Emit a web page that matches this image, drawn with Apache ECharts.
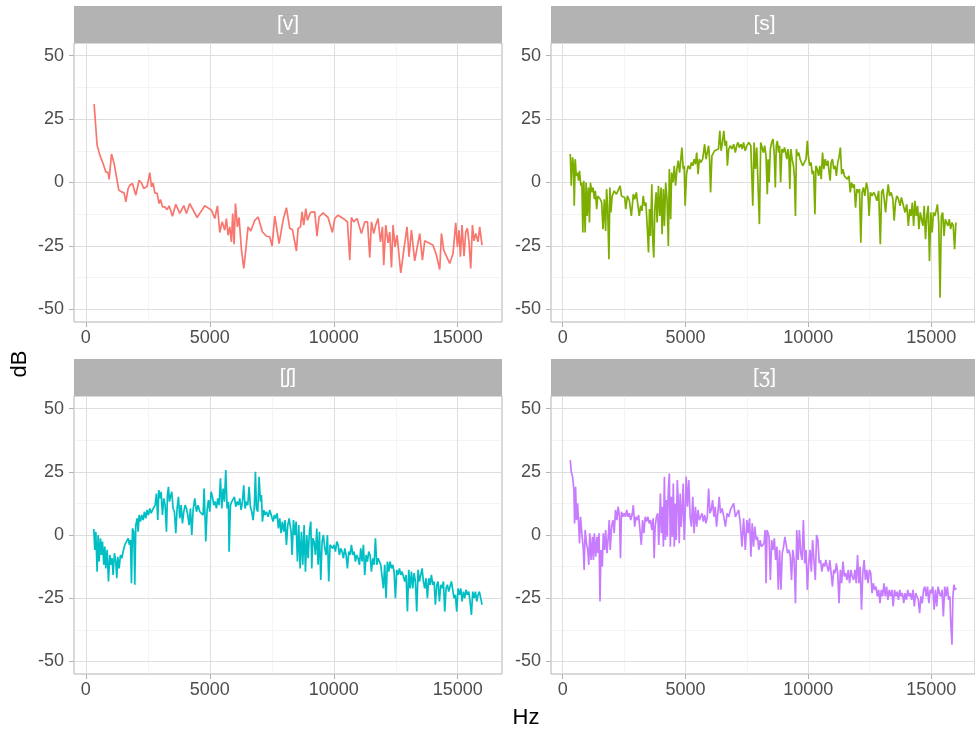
<!DOCTYPE html>
<html><head><meta charset="utf-8">
<script src="https://cdn.jsdelivr.net/npm/echarts@6/dist/echarts.min.js"></script>
<style>html,body{margin:0;padding:0;background:#fff}#c{width:975px;height:729px}</style>
</head><body><div id="c"></div><script>
const panelNames = ['[v]', '[s]', '[ʃ]', '[ʒ]'];
const panelColors = ['#F8766D', '#7CAE00', '#00BFC4', '#C77CFF'];
const xTicks = [0, 5000, 10000, 15000];
const xMinorTicks = [2500, 7500, 12500];
const yTicks = [-50, -25, 0, 25, 50];
const yMinorTicks = [-37.5, -12.5, 12.5, 37.5];
const xTitle = 'Hz';
const yTitle = 'dB';

// [Hz, dB]
const dataV = [[335,30.9],[456,14.7],[565,10.8],[698,7.5],[806,4.2],[899,3.9],[940,1.2],[1036,11.2],[1142,7.5],[1237,2.2],[1330,-3.0],[1439,-3.7],[1544,-4.1],[1613,-7.6],[1706,-2.4],[1774,-1.1],[1882,-0.4],[2016,-5.0],[2150,0.9],[2246,-0.2],[2339,-2.4],[2472,-1.5],[2581,3.9],[2648,-1.7],[2715,-0.2],[2782,-4.1],[2876,-4.3],[2956,-8.3],[3011,-6.7],[3092,-9.6],[3185,-9.6],[3279,-10.7],[3360,-9.2],[3494,-13.3],[3629,-8.6],[3790,-12.2],[3951,-9.1],[4059,-12.2],[4193,-8.3],[4488,-13.8],[4798,-9.2],[5067,-10.9],[5201,-14.2],[5309,-9.2],[5403,-19.7],[5497,-15.5],[5604,-18.8],[5671,-14.2],[5738,-20.8],[5806,-17.5],[5873,-23.4],[5925,-12.2],[5980,-24.3],[6036,-8.3],[6116,-17.5],[6181,-13.8],[6278,-26.7],[6371,-33.9],[6451,-26.7],[6544,-17.5],[6653,-19.1],[6814,-14.9],[6948,-13.6],[7125,-19.5],[7286,-21.2],[7420,-21.4],[7512,-25.1],[7621,-13.2],[7795,-24.1],[7956,-14.9],[8091,-9.9],[8225,-18.1],[8334,-18.5],[8386,-21.4],[8495,-27.0],[8560,-18.1],[8657,-17.5],[8721,-11.6],[8790,-16.8],[8871,-10.3],[8939,-14.9],[9060,-11.8],[9233,-11.6],[9326,-21.2],[9407,-13.6],[9568,-12.0],[9770,-13.8],[9947,-19.7],[10040,-14.2],[10173,-12.9],[10443,-14.6],[10551,-15.5],[10645,-30.6],[10712,-13.8],[10806,-15.5],[10939,-14.2],[11116,-20.1],[11253,-15.5],[11362,-15.5],[11451,-29.6],[11520,-15.5],[11612,-20.1],[11693,-16.8],[11786,-14.2],[11883,-23.4],[11963,-17.5],[12016,-32.6],[12097,-16.8],[12190,-23.8],[12258,-19.5],[12327,-33.5],[12391,-16.8],[12472,-25.4],[12553,-20.8],[12701,-35.6],[12834,-26.0],[12955,-17.5],[13036,-29.3],[13133,-18.8],[13265,-30.9],[13467,-20.1],[13576,-30.6],[13669,-23.0],[14004,-24.7],[14140,-28.7],[14274,-34.3],[14342,-20.1],[14435,-26.7],[14677,-31.9],[14810,-28.0],[14919,-15.9],[14988,-25.4],[15052,-18.8],[15108,-29.3],[15173,-16.8],[15254,-29.1],[15322,-19.5],[15390,-18.1],[15455,-23.4],[15524,-33.9],[15592,-16.8],[15657,-23.0],[15725,-20.1],[15818,-23.4],[15886,-17.5],[15979,-24.7]];

const dataS = [[309,11.2],[350,-1.3],[403,9.9],[444,6.6],[470,-9.2],[511,9.2],[551,2.6],[605,3.9],[645,0.7],[685,4.6],[739,-1.3],[780,0],[820,-19.7],[860,0.7],[914,-19.7],[954,0],[995,-13.2],[1048,-2.0],[1089,-15.8],[1129,0],[1183,-3.9],[1236,-2.0],[1290,-6.6],[1331,-3.3],[1384,-10.5],[1425,-5.3],[1479,-5.3],[1532,-6.6],[1586,-7.9],[1640,-18.4],[1694,-6.6],[1747,-19.1],[1787,-2.6],[1828,-9.2],[1882,-30.3],[1922,-2.0],[1962,-11.8],[2016,-5.3],[2096,-3.3],[2190,-4.6],[2258,-3.9],[2338,-1.3],[2392,-5.3],[2459,-5.3],[2526,-5.9],[2567,-10.5],[2634,-5.3],[2715,-7.2],[2795,-13.2],[2876,-4.6],[2930,-6.6],[2997,-3.9],[3064,-9.2],[3118,-13.2],[3172,-9.2],[3226,-11.2],[3279,-5.3],[3333,-9.2],[3387,-7.9],[3440,-17.1],[3494,-27.6],[3534,-10.5],[3575,-21.1],[3629,-0.7],[3669,-23.0],[3709,-29.6],[3750,-10.5],[3803,-3.9],[3844,-15.8],[3898,-1.3],[3951,-13.2],[4005,-2.0],[4046,-20.4],[4099,-2.6],[4140,-17.1],[4193,0],[4247,-6.6],[4301,-25.0],[4341,5.3],[4395,-14.5],[4435,3.9],[4489,0],[4543,6.6],[4596,-1.3],[4650,5.3],[4704,8.6],[4758,3.9],[4811,9.2],[4852,13.8],[4906,5.3],[4946,6.6],[4986,-9.2],[5040,3.3],[5107,6.6],[5188,5.3],[5241,7.9],[5295,6.6],[5349,9.2],[5403,7.2],[5456,11.8],[5510,3.3],[5564,9.2],[5618,7.9],[5698,9.2],[5779,15.1],[5833,9.2],[5886,11.8],[5940,14.5],[5980,9.2],[6021,-3.9],[6074,10.5],[6128,9.9],[6182,12.5],[6262,11.8],[6343,13.2],[6396,20.4],[6450,12.5],[6504,15.8],[6558,20.4],[6611,14.5],[6665,16.4],[6705,6.6],[6759,13.2],[6826,14.5],[6893,13.2],[6961,15.1],[7028,11.8],[7081,14.5],[7135,15.8],[7189,13.8],[7256,15.1],[7310,13.2],[7363,15.8],[7430,12.5],[7498,14.5],[7578,15.8],[7659,14.5],[7739,-9.2],[7793,15.8],[7847,5.3],[7901,13.8],[7954,13.2],[8008,-16.4],[8062,15.8],[8115,16.4],[8169,11.8],[8223,14.5],[8277,10.5],[8330,-4.6],[8360,9.2],[8401,0],[8454,13.2],[8508,15.8],[8562,17.1],[8616,10.5],[8656,-2.0],[8696,14.5],[8737,16.4],[8790,11.8],[8831,14.5],[8871,0],[8925,13.2],[8979,11.8],[9032,13.8],[9073,14.5],[9126,9.2],[9167,13.2],[9207,10.5],[9247,-2.6],[9288,13.2],[9341,9.2],[9395,6.6],[9435,2.0],[9476,-13.2],[9516,13.2],[9556,10.5],[9610,11.8],[9664,9.2],[9717,9.9],[9771,6.6],[9839,7.9],[9906,9.2],[9960,16.4],[10000,10.5],[10054,6.6],[10108,7.9],[10161,3.3],[10215,4.6],[10269,-12.5],[10309,6.6],[10363,5.3],[10417,2.6],[10470,6.6],[10524,1.3],[10578,11.8],[10632,5.3],[10686,9.2],[10739,6.6],[10793,8.6],[10847,3.9],[10887,0.7],[10927,7.9],[10981,9.2],[11035,5.3],[11089,6.6],[11142,2.6],[11196,7.9],[11250,9.9],[11304,13.8],[11357,3.3],[11411,5.3],[11465,2.6],[11519,2.6],[11586,1.3],[11653,2.6],[11707,-3.9],[11760,0],[11814,-2.0],[11868,-0.7],[11922,-9.9],[11976,-2.6],[12029,-3.9],[12083,-2.6],[12137,-23.7],[12190,-3.9],[12244,-2.0],[12298,-5.3],[12365,0],[12419,-2.6],[12473,-13.2],[12527,-3.9],[12594,-5.3],[12661,-3.9],[12728,-5.3],[12795,-7.2],[12862,-3.3],[12930,-24.3],[12984,-3.9],[13037,-2.6],[13091,-6.6],[13145,-11.8],[13199,-5.3],[13252,-0.7],[13306,-5.3],[13373,-3.9],[13441,-6.6],[13494,-15.1],[13548,-7.9],[13602,-5.3],[13669,-6.6],[13736,-9.2],[13790,-5.9],[13871,-6.6],[13938,-11.8],[14005,-8.6],[14072,-17.1],[14126,-10.5],[14180,-13.2],[14234,-7.9],[14287,-17.1],[14341,-7.2],[14395,-13.2],[14449,-9.2],[14502,-18.4],[14556,-11.8],[14610,-14.5],[14664,-17.1],[14717,-9.2],[14771,-22.4],[14825,-13.2],[14879,-9.2],[14932,-30.9],[14986,-11.8],[15040,-19.7],[15094,-11.8],[15148,-13.2],[15201,-11.2],[15255,-8.6],[15309,-15.8],[15363,-45.4],[15416,-13.2],[15470,-11.8],[15524,-21.1],[15578,-14.5],[15631,-15.8],[15685,-17.1],[15739,-14.5],[15793,-18.4],[15847,-15.8],[15900,-17.1],[15954,-26.3],[16008,-15.8]];

const dataSh = [[323,2.4],[363,-5.9],[403,1.3],[457,-14.5],[497,0],[538,-10.5],[591,-1.3],[632,-7.9],[672,-2.6],[726,-11.8],[766,-4.6],[806,-13.2],[860,-5.9],[914,-18.4],[968,-7.9],[1021,-11.8],[1062,-9.2],[1102,-15.8],[1156,-7.2],[1210,-10.5],[1250,-17.1],[1290,-8.6],[1344,-13.2],[1398,-7.9],[1451,-9.2],[1505,-6.6],[1572,-3.9],[1640,-3.3],[1707,-1.3],[1761,-3.9],[1801,-2.0],[1841,-19.1],[1882,2.6],[1935,1.3],[1976,-19.7],[2016,3.9],[2070,6.6],[2110,1.3],[2150,7.9],[2204,5.3],[2258,7.9],[2312,5.9],[2365,9.2],[2419,6.6],[2473,9.9],[2527,7.9],[2580,10.5],[2634,8.6],[2688,9.9],[2742,9.2],[2795,11.8],[2849,16.4],[2903,5.9],[2943,17.8],[2997,14.5],[3037,17.1],[3091,7.9],[3145,14.5],[3199,11.8],[3253,1.3],[3293,15.8],[3333,19.1],[3373,13.2],[3414,15.1],[3467,17.1],[3521,10.5],[3575,9.2],[3629,0.7],[3683,10.5],[3736,15.1],[3790,6.6],[3844,11.8],[3898,4.6],[3951,9.2],[4005,11.8],[4059,10.5],[4113,7.9],[4166,3.9],[4220,10.5],[4274,0],[4328,9.9],[4395,14.5],[4462,9.2],[4529,11.8],[4596,9.2],[4663,9.9],[4731,7.9],[4771,18.4],[4811,6.6],[4838,-2.6],[4892,9.9],[4946,13.8],[4999,9.2],[5053,17.1],[5107,15.1],[5161,11.8],[5215,13.2],[5268,10.5],[5322,14.5],[5376,11.8],[5430,22.4],[5484,10.5],[5537,18.4],[5591,13.2],[5645,25.7],[5699,10.5],[5752,13.2],[5779,-6.6],[5833,11.8],[5887,13.2],[5940,13.8],[5994,15.1],[6048,11.2],[6102,13.2],[6155,11.8],[6209,14.5],[6263,9.9],[6317,13.2],[6370,19.7],[6424,10.5],[6478,13.2],[6532,11.8],[6585,19.1],[6639,11.2],[6693,9.2],[6747,5.9],[6800,11.8],[6841,25.0],[6881,10.5],[6935,9.2],[6989,23.0],[7042,13.2],[7083,15.8],[7123,5.3],[7177,9.9],[7231,7.9],[7284,9.2],[7352,7.2],[7419,9.9],[7486,9.2],[7553,5.3],[7607,7.9],[7661,6.6],[7715,8.6],[7768,2.6],[7822,6.6],[7876,0.7],[7930,5.3],[7984,1.3],[8037,5.9],[8091,-3.9],[8145,3.9],[8199,6.6],[8280,1.3],[8320,-7.9],[8374,5.9],[8427,0],[8481,5.3],[8535,-10.5],[8589,3.9],[8643,-13.2],[8696,1.3],[8750,-11.8],[8804,3.9],[8858,-14.5],[8911,0],[8965,-9.2],[9019,1.3],[9073,5.3],[9113,-13.2],[9153,-1.3],[9207,-2.6],[9261,-7.9],[9315,2.6],[9368,-11.8],[9422,1.3],[9476,-17.8],[9530,-2.6],[9583,0],[9637,-5.3],[9691,-7.9],[9745,0],[9798,-18.4],[9852,-3.9],[9906,-3.9],[9960,-5.3],[10013,-3.9],[10067,-6.6],[10121,-2.6],[10175,-3.9],[10228,-7.9],[10282,-5.3],[10336,-6.6],[10390,-9.2],[10444,-5.3],[10497,-7.9],[10551,-13.2],[10605,-6.6],[10659,-7.9],[10712,-3.9],[10766,-7.9],[10820,-6.6],[10874,-10.5],[10927,-7.9],[10981,-9.2],[11035,-11.8],[11089,-5.3],[11142,-10.5],[11196,-3.9],[11250,-15.8],[11304,-7.9],[11357,-10.5],[11411,-6.6],[11465,-7.9],[11519,-14.5],[11572,-9.2],[11626,-11.8],[11680,-1.3],[11734,-11.8],[11788,-9.2],[11841,-10.5],[11895,-11.8],[11949,-11.8],[12003,-21.1],[12056,-11.8],[12110,-25.0],[12164,-10.5],[12218,-14.5],[12271,-10.5],[12325,-13.2],[12379,-11.8],[12433,-14.5],[12487,-25.0],[12540,-13.8],[12594,-15.8],[12648,-13.2],[12702,-15.8],[12755,-14.5],[12809,-13.8],[12863,-18.4],[12917,-15.8],[12971,-30.3],[13024,-13.8],[13078,-21.1],[13132,-14.5],[13186,-21.1],[13239,-15.1],[13293,-18.4],[13347,-30.3],[13401,-13.8],[13454,-18.4],[13508,-15.8],[13562,-13.2],[13616,-18.4],[13669,-21.1],[13723,-17.1],[13777,-25.0],[13831,-17.1],[13884,-19.7],[13938,-15.8],[13992,-19.7],[14046,-18.4],[14099,-27.6],[14153,-19.7],[14207,-18.4],[14261,-26.3],[14315,-19.7],[14368,-21.1],[14422,-18.4],[14476,-30.3],[14530,-21.1],[14583,-19.7],[14637,-22.4],[14691,-20.4],[14745,-18.4],[14798,-17.8],[14852,-25.0],[14906,-23.7],[14960,-30.3],[15013,-21.1],[15067,-23.7],[15121,-21.1],[15175,-26.3],[15229,-22.4],[15282,-25.0],[15336,-21.7],[15390,-23.7],[15444,-22.4],[15497,-26.3],[15551,-31.6],[15605,-22.4],[15659,-25.0],[15712,-22.4],[15766,-26.3],[15820,-23.7],[15874,-22.4],[15927,-25.0],[15981,-27.6]];

const dataZh = [[309,29.6],[350,25.0],[403,23.0],[457,17.8],[484,4.6],[524,19.1],[564,5.9],[605,12.5],[645,5.3],[685,-3.3],[726,7.2],[780,0.7],[833,-4.6],[874,-13.8],[914,2.0],[968,-3.3],[1021,-5.9],[1062,-11.8],[1102,0.7],[1156,-9.9],[1210,-0.7],[1250,-9.9],[1290,0.7],[1344,-8.6],[1398,-0.7],[1438,-7.2],[1478,0.7],[1519,-26.3],[1559,-5.9],[1613,-12.5],[1653,0.7],[1707,-5.9],[1747,2.0],[1801,-7.2],[1855,-0.7],[1895,5.9],[1935,-5.9],[1989,3.3],[2043,5.9],[2097,0.7],[2150,9.9],[2204,5.9],[2258,11.2],[2312,7.2],[2352,-9.2],[2392,9.2],[2446,7.2],[2500,8.6],[2554,7.2],[2607,9.9],[2661,7.2],[2715,8.6],[2769,5.9],[2823,7.9],[2876,11.8],[2930,3.3],[2984,7.2],[3038,5.9],[3091,7.9],[3145,7.2],[3199,-3.9],[3253,5.9],[3306,0.7],[3360,7.2],[3414,5.3],[3468,7.2],[3522,4.6],[3575,5.9],[3629,2.0],[3683,6.6],[3723,-9.2],[3763,3.3],[3817,7.2],[3871,8.6],[3911,-3.9],[3951,7.2],[3978,16.4],[4019,0.7],[4059,11.2],[4099,-4.6],[4140,23.0],[4180,-2.0],[4220,13.8],[4260,-0.7],[4301,17.8],[4341,24.3],[4382,-4.6],[4422,15.1],[4462,-0.7],[4503,20.4],[4543,-4.6],[4583,12.5],[4623,-2.0],[4664,21.7],[4704,13.8],[4744,-3.3],[4785,16.4],[4825,3.3],[4865,9.9],[4906,20.4],[4946,-2.0],[4986,7.2],[5027,23.0],[5080,11.2],[5134,21.7],[5188,7.2],[5242,3.3],[5295,15.1],[5349,0.7],[5403,11.2],[5457,3.3],[5510,9.9],[5564,5.9],[5618,7.2],[5672,8.6],[5726,5.3],[5779,7.9],[5833,4.6],[5887,7.2],[5941,18.4],[5994,8.6],[6048,9.9],[6102,13.8],[6156,7.2],[6209,11.2],[6263,3.3],[6317,8.6],[6371,15.1],[6424,8.6],[6491,10.5],[6559,7.2],[6626,3.3],[6693,8.6],[6760,7.2],[6827,9.9],[6894,10.5],[6962,12.5],[7029,7.2],[7096,8.6],[7164,9.9],[7231,4.6],[7298,-4.6],[7365,6.6],[7433,-5.9],[7500,5.9],[7553,0.7],[7607,6.6],[7661,-8.6],[7715,4.6],[7769,-4.6],[7822,3.3],[7876,-2.0],[7930,-0.7],[7984,-5.9],[8037,-2.0],[8091,-4.6],[8145,-4.6],[8199,-3.3],[8240,2.0],[8280,-19.1],[8320,2.0],[8401,-0.7],[8455,-17.8],[8508,-2.0],[8562,-5.9],[8616,-1.3],[8670,-9.9],[8723,-4.6],[8777,-21.7],[8831,-5.9],[8885,-21.7],[8938,-7.2],[8992,-4.6],[9046,-0.7],[9100,0],[9153,-7.2],[9207,-5.9],[9261,-7.9],[9315,-17.8],[9368,-5.9],[9422,-9.9],[9476,-27.0],[9530,2.0],[9583,-9.9],[9637,2.0],[9691,-7.2],[9745,-9.9],[9798,5.9],[9852,-11.2],[9906,-5.9],[9960,-21.7],[10013,-11.2],[10067,-5.9],[10121,-14.5],[10175,-2.0],[10228,-9.9],[10282,-17.8],[10336,0],[10390,-2.0],[10444,-11.2],[10497,-9.9],[10551,-14.5],[10605,-11.2],[10659,-12.5],[10713,-9.9],[10766,-12.5],[10820,-14.5],[10874,-9.9],[10927,-15.1],[10981,-20.4],[11035,-13.8],[11089,-15.1],[11142,-11.2],[11196,-15.1],[11250,-27.0],[11304,-13.8],[11357,-19.1],[11411,-10.5],[11465,-16.4],[11519,-15.1],[11572,-17.8],[11626,-13.8],[11680,-19.1],[11734,-13.8],[11787,-16.4],[11841,-17.8],[11895,-13.8],[11949,-19.1],[12003,-7.9],[12056,-19.1],[12110,-12.5],[12164,-29.6],[12218,-15.1],[12271,-9.9],[12325,-17.8],[12379,-13.8],[12433,-19.1],[12487,-13.8],[12540,-15.1],[12594,-23.0],[12648,-19.1],[12702,-21.7],[12756,-20.4],[12809,-24.3],[12863,-21.7],[12917,-27.0],[12971,-21.7],[13024,-24.3],[13078,-19.1],[13132,-24.3],[13186,-20.4],[13239,-25.7],[13293,-21.7],[13347,-24.3],[13401,-21.7],[13454,-28.3],[13508,-21.7],[13562,-24.3],[13616,-22.4],[13669,-25.7],[13723,-21.7],[13777,-24.3],[13831,-23.0],[13884,-27.0],[13938,-23.0],[13992,-25.7],[14046,-21.7],[14099,-24.3],[14153,-23.0],[14207,-25.7],[14261,-21.7],[14315,-28.3],[14368,-23.0],[14422,-24.3],[14476,-25.7],[14530,-30.9],[14583,-24.3],[14637,-27.0],[14691,-21.7],[14745,-20.4],[14798,-24.3],[14852,-20.4],[14906,-27.0],[14960,-21.7],[15013,-23.0],[15067,-20.4],[15121,-29.6],[15175,-21.7],[15228,-28.3],[15282,-20.4],[15336,-23.0],[15390,-24.3],[15444,-21.7],[15497,-32.2],[15551,-20.4],[15605,-24.3],[15659,-20.4],[15712,-25.7],[15766,-24.3],[15793,-33.6],[15847,-43.4],[15887,-24.3],[15927,-19.7],[15981,-21.7],[16021,-21.1]];

const panelData = [dataV, dataS, dataSh, dataZh];

// layout
const FONT = "'Liberation Sans', Arial, sans-serif";
const gridPos = [
  {left: 74, top: 43, width: 428, height: 279},
  {left: 551, top: 43, width: 427, height: 279},
  {left: 74, top: 396, width: 428, height: 278},
  {left: 551, top: 396, width: 427, height: 278}
];
const stripH = 37;
const X_MIN = -476, X_MAX = 16785, Y_MIN = -55, Y_MAX = 55;
const plainNum = v => String(v);

const grids = [], xAxes = [], yAxes = [], series = [], graphics = [];
gridPos.forEach((g, i) => {
  grids.push({left: g.left, top: g.top, width: g.width, height: g.height, show: true,
    borderColor: '#B3B3B3', borderWidth: 1, backgroundColor: '#fff', containLabel: false});
  const majorLine = {show: true, lineStyle: {color: '#DEDEDE', width: 1}};
  const minorLine = {show: true, lineStyle: {color: '#EDEDED', width: 0.6}};
  xAxes.push({gridIndex: i, type: 'value', min: X_MIN, max: X_MAX, position: 'bottom',
    axisLine: {show: false, onZero: false},
    axisTick: {show: true, length: 5, customValues: xTicks, lineStyle: {color: '#B3B3B3'}},
    axisLabel: {show: true, customValues: xTicks, formatter: plainNum, color: '#4D4D4D', fontSize: 18, fontFamily: FONT, margin: 7},
    splitLine: majorLine});
  xAxes.push({gridIndex: i, type: 'value', min: X_MIN, max: X_MAX, position: 'top',
    axisLine: {show: false, onZero: false},
    axisTick: {show: false, customValues: xMinorTicks},
    axisLabel: {show: false, customValues: xMinorTicks},
    splitLine: minorLine});
  yAxes.push({gridIndex: i, type: 'value', min: Y_MIN, max: Y_MAX, position: 'left',
    axisLine: {show: false, onZero: false},
    axisTick: {show: true, length: 5, customValues: yTicks, lineStyle: {color: '#B3B3B3'}},
    axisLabel: {show: true, customValues: yTicks, formatter: plainNum, color: '#4D4D4D', fontSize: 18, fontFamily: FONT, margin: 10},
    splitLine: majorLine});
  yAxes.push({gridIndex: i, type: 'value', min: Y_MIN, max: Y_MAX, position: 'right',
    axisLine: {show: false, onZero: false},
    axisTick: {show: false, customValues: yMinorTicks},
    axisLabel: {show: false, customValues: yMinorTicks},
    splitLine: minorLine});
  series.push({type: 'line', name: panelNames[i], xAxisIndex: 2 * i, yAxisIndex: 2 * i,
    data: panelData[i], showSymbol: false, symbol: 'none', clip: true,
    lineStyle: {color: panelColors[i], width: 1.7}, itemStyle: {color: panelColors[i]},
    z: 5, animation: false});
  graphics.push({type: 'rect', left: g.left, top: g.top - stripH, silent: true,
    shape: {width: g.width, height: stripH}, style: {fill: '#B3B3B3'}});
  graphics.push({type: 'text', x: g.left + g.width / 2, y: g.top - stripH / 2, silent: true,
    style: {text: panelNames[i], fill: '#FFFFFF', font: '21px ' + FONT, textAlign: 'center', textVerticalAlign: 'middle'}});
});
graphics.push({type: 'text', x: 526, y: 718, silent: true,
  style: {text: xTitle, fill: '#000', font: '22px ' + FONT, textAlign: 'center', textVerticalAlign: 'middle'}});
graphics.push({type: 'text', x: 20, y: 364, rotation: Math.PI / 2, silent: true,
  style: {text: yTitle, fill: '#000', font: '22px ' + FONT, textAlign: 'center', textVerticalAlign: 'middle'}});

const chart = echarts.init(document.getElementById('c'), null, {renderer: 'canvas'});
chart.setOption({
  animation: false,
  backgroundColor: '#fff',
  grid: grids, xAxis: xAxes, yAxis: yAxes, series: series, graphic: graphics
});
</script></body></html>
